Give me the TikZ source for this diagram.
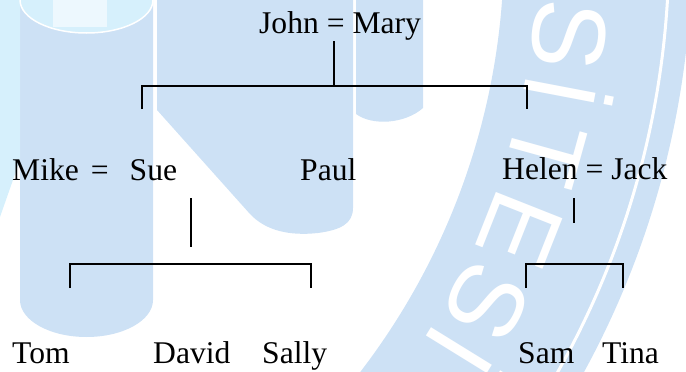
\documentclass[tikz,border=0pt]{standalone}
\usepackage{fontspec}
\setmainfont{Liberation Serif}
\newfontfamily\logofont{Liberation Sans}
\definecolor{wmblue}{RGB}{205,225,245}
\definecolor{wmcyan}{RGB}{214,240,252}
\begin{document}
\begin{tikzpicture}[x=1pt,y=-1pt,
  lbl/.style={anchor=base west, inner sep=0pt, font=\fontsize{31.6}{38}\selectfont},
  conn/.style={line width=2pt, black},
  wmletter/.style={anchor=base, inner sep=0pt, text=white, font=\logofont\fontsize{104}{104}\selectfont}]
\useasboundingbox (0,0) rectangle (686,372);
% ---------- watermark ----------
\begin{scope}
\clip (0,0) rectangle (686,372);
\fill[wmblue] (20,0) -- (20,300) arc[start angle=180,end angle=0,x radius=66.5,y radius=37] -- (153,0) -- cycle;
\fill[wmcyan] (0,0) -- (0,217) -- (20,160) -- (20,0) -- cycle;
\fill[wmcyan] (20,0) arc[start angle=180,end angle=0,x radius=66.5,y radius=33] -- cycle;
\fill[white!55!wmcyan] (53,0) rectangle (107,27);
\draw[white, line width=1.5pt] (20,0) arc[start angle=180,end angle=0,x radius=66.5,y radius=33];
\fill[wmblue] (157,0) -- (157,110) -- (250,214) .. controls (266,231) and (290,236) .. (318,233) .. controls (340,230) and (353,224) .. (353,208) -- (353,0) -- cycle;
\fill[wmblue] (356,0) -- (356,114) .. controls (372,126) and (405,124) .. (423,108) -- (423,0) -- cycle;
\fill[wmblue, even odd rule] (-193,-52) circle[radius=885pt] (-193,-52) circle[radius=697pt];
\draw[white, line width=3pt] (-193,-52) circle[radius=862pt];
\begin{scope}[shift={(-193,-52)}]
\node[wmletter, rotate=-96.5] (wS1) at (6.5:731) {S};
\node[wmletter, rotate=-100.8] (wI1) at (10.8:731) {İ};
\node[wmletter, rotate=-105.5] (wT) at (15.5:731) {T};
\node[wmletter, rotate=-111.6] (wE) at (21.6:731) {E};
\node[wmletter, rotate=-117.5] (wS2) at (27.5:731) {S};
\node[wmletter, rotate=-121.7] (wI2) at (31.7:731) {İ};
\end{scope}
\end{scope}
% ---------- family tree ----------
\node[lbl] (john) at (259,33) {John = Mary};
\node[lbl] (mike) at (12,180) {Mike\hspace{12pt}=\hspace{21pt}Sue};
\node[lbl] (paul) at (300,180) {Paul};
\node[lbl] (helen) at (502,179) {Helen = Jack};
\node[lbl] (tom) at (12,363) {Tom};
\node[lbl] (david) at (153,363) {David};
\node[lbl] (sally) at (262,363) {Sally};
\node[lbl] (sam) at (518,363) {Sam};
\node[lbl] (tina) at (602,363) {Tina};
% connectors
\coordinate (jmS) at (334,41);
\coordinate (jmJ) at (334,86);
\coordinate (c1L) at (142,109);
\coordinate (c1R) at (527,109);
\draw[conn] (jmS) -- (jmJ);
\draw[conn] (c1L) |- (jmJ) -| (c1R);
\coordinate (msS) at (191,198);
\coordinate (msE) at (191,247);
\coordinate (msJ) at (191,264);
\coordinate (c2L) at (70,288);
\coordinate (c2R) at (311,288);
\draw[conn] (msS) -- (msE);
\draw[conn] (c2L) |- (msJ) -| (c2R);
\coordinate (hjS) at (574,198);
\coordinate (hjE) at (574,223);
\coordinate (hjJ) at (574,264);
\coordinate (c3L) at (526,288);
\coordinate (c3R) at (623,288);
\draw[conn] (hjS) -- (hjE);
\draw[conn] (c3L) |- (hjJ) -| (c3R);
\end{tikzpicture}
\end{document}
